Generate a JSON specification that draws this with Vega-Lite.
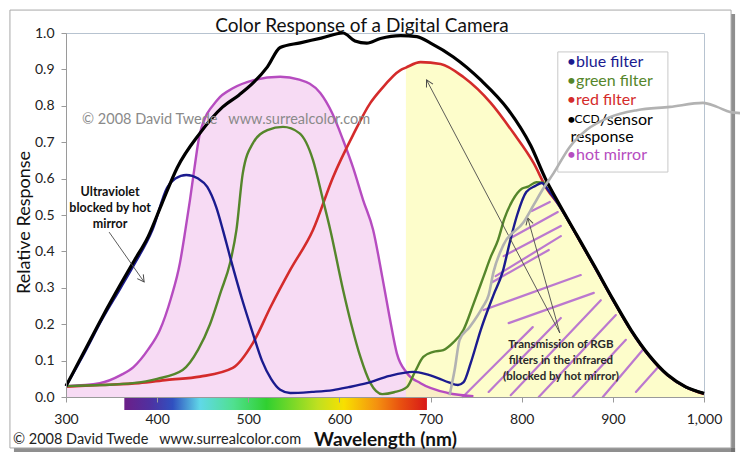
{
  "$schema": "https://vega.github.io/schema/vega-lite/v6.json",
  "width": 638,
  "height": 364,
  "autosize": {"type": "none"},
  "padding": {"left": 66, "top": 33, "right": 36, "bottom": 63},
  "background": "white",
  "config": {"font": "Lato", "view": {"stroke": "#b7c3d0", "strokeWidth": 1}},
  "title": {"text": "Color Response of a Digital Camera", "fontSize": 19, "fontWeight": "normal", "color": "#111111", "anchor": "middle", "dx": -23, "offset": -45, "font": "Lato", "baseline": "bottom"},
  "datasets": {
    "curves": [
      {"s":"blue","nm":300,"v":0.03},{"s":"blue","nm":320,"v":0.12},{"s":"blue","nm":340,"v":0.215},{"s":"blue","nm":360,"v":0.3},{"s":"blue","nm":375,"v":0.365},{"s":"blue","nm":395,"v":0.46},{"s":"blue","nm":411,"v":0.575},{"s":"blue","nm":420,"v":0.6},{"s":"blue","nm":432,"v":0.61},{"s":"blue","nm":445,"v":0.6},{"s":"blue","nm":455,"v":0.577},{"s":"blue","nm":465,"v":0.52},{"s":"blue","nm":472,"v":0.46},{"s":"blue","nm":480,"v":0.385},{"s":"blue","nm":493,"v":0.27},{"s":"blue","nm":505,"v":0.175},{"s":"blue","nm":515,"v":0.1},{"s":"blue","nm":525,"v":0.05},{"s":"blue","nm":535,"v":0.02},{"s":"blue","nm":546,"v":0.011},{"s":"blue","nm":570,"v":0.014},{"s":"blue","nm":593,"v":0.019},{"s":"blue","nm":610,"v":0.027},{"s":"blue","nm":630,"v":0.038},{"s":"blue","nm":655,"v":0.058},{"s":"blue","nm":681,"v":0.069},{"s":"blue","nm":695,"v":0.063},{"s":"blue","nm":708,"v":0.052},{"s":"blue","nm":720,"v":0.04},{"s":"blue","nm":730,"v":0.033},{"s":"blue","nm":736,"v":0.04},{"s":"blue","nm":744,"v":0.093},{"s":"blue","nm":755,"v":0.184},{"s":"blue","nm":769,"v":0.28},{"s":"blue","nm":779,"v":0.343},{"s":"blue","nm":787,"v":0.426},{"s":"blue","nm":795,"v":0.5},{"s":"blue","nm":805,"v":0.563},{"s":"blue","nm":815,"v":0.58},{"s":"blue","nm":822,"v":0.588},{"s":"blue","nm":830,"v":0.565},{"s":"blue","nm":840,"v":0.53},{"s":"blue","nm":860,"v":0.445},{"s":"blue","nm":880,"v":0.357},{"s":"blue","nm":900,"v":0.267},{"s":"blue","nm":920,"v":0.182},{"s":"blue","nm":940,"v":0.112},{"s":"blue","nm":960,"v":0.06},{"s":"blue","nm":980,"v":0.027},{"s":"blue","nm":1000,"v":0.01},
      {"s":"green","nm":300,"v":0.03},{"s":"green","nm":340,"v":0.033},{"s":"green","nm":373,"v":0.038},{"s":"green","nm":400,"v":0.05},{"s":"green","nm":428,"v":0.074},{"s":"green","nm":445,"v":0.13},{"s":"green","nm":458,"v":0.2},{"s":"green","nm":470,"v":0.29},{"s":"green","nm":480,"v":0.368},{"s":"green","nm":487,"v":0.459},{"s":"green","nm":494,"v":0.615},{"s":"green","nm":505,"v":0.697},{"s":"green","nm":521,"v":0.733},{"s":"green","nm":538,"v":0.742},{"s":"green","nm":556,"v":0.725},{"s":"green","nm":571,"v":0.651},{"s":"green","nm":582,"v":0.541},{"s":"green","nm":590,"v":0.459},{"s":"green","nm":604,"v":0.294},{"s":"green","nm":613,"v":0.2},{"s":"green","nm":623,"v":0.11},{"s":"green","nm":634,"v":0.038},{"s":"green","nm":647,"v":0.008},{"s":"green","nm":660,"v":0.013},{"s":"green","nm":674,"v":0.027},{"s":"green","nm":683,"v":0.07},{"s":"green","nm":692,"v":0.11},{"s":"green","nm":703,"v":0.124},{"s":"green","nm":714,"v":0.129},{"s":"green","nm":725,"v":0.15},{"s":"green","nm":736,"v":0.184},{"s":"green","nm":747,"v":0.255},{"s":"green","nm":758,"v":0.33},{"s":"green","nm":766,"v":0.385},{"s":"green","nm":774,"v":0.431},{"s":"green","nm":781,"v":0.49},{"s":"green","nm":790,"v":0.54},{"s":"green","nm":800,"v":0.572},{"s":"green","nm":807,"v":0.578},{"s":"green","nm":816,"v":0.59},{"s":"green","nm":826,"v":0.588},{"s":"green","nm":840,"v":0.532},{"s":"green","nm":860,"v":0.446},{"s":"green","nm":880,"v":0.358},{"s":"green","nm":900,"v":0.268},{"s":"green","nm":920,"v":0.183},{"s":"green","nm":940,"v":0.113},{"s":"green","nm":960,"v":0.06},{"s":"green","nm":980,"v":0.027},{"s":"green","nm":1000,"v":0.01},
      {"s":"red","nm":300,"v":0.028},{"s":"red","nm":337,"v":0.033},{"s":"red","nm":380,"v":0.038},{"s":"red","nm":411,"v":0.047},{"s":"red","nm":447,"v":0.056},{"s":"red","nm":483,"v":0.08},{"s":"red","nm":505,"v":0.148},{"s":"red","nm":525,"v":0.25},{"s":"red","nm":546,"v":0.349},{"s":"red","nm":571,"v":0.459},{"s":"red","nm":593,"v":0.604},{"s":"red","nm":615,"v":0.72},{"s":"red","nm":634,"v":0.808},{"s":"red","nm":645,"v":0.843},{"s":"red","nm":667,"v":0.898},{"s":"red","nm":673,"v":0.905},{"s":"red","nm":689,"v":0.92},{"s":"red","nm":711,"v":0.915},{"s":"red","nm":736,"v":0.879},{"s":"red","nm":766,"v":0.808},{"s":"red","nm":791,"v":0.725},{"s":"red","nm":813,"v":0.643},{"s":"red","nm":828,"v":0.57},{"s":"red","nm":840,"v":0.53},{"s":"red","nm":860,"v":0.445},{"s":"red","nm":880,"v":0.357},{"s":"red","nm":900,"v":0.267},{"s":"red","nm":920,"v":0.182},{"s":"red","nm":940,"v":0.112},{"s":"red","nm":960,"v":0.06},{"s":"red","nm":980,"v":0.027},{"s":"red","nm":1000,"v":0.008},
      {"s":"ccd","nm":300,"v":0.03},{"s":"ccd","nm":320,"v":0.125},{"s":"ccd","nm":340,"v":0.22},{"s":"ccd","nm":360,"v":0.31},{"s":"ccd","nm":375,"v":0.375},{"s":"ccd","nm":390,"v":0.44},{"s":"ccd","nm":405,"v":0.53},{"s":"ccd","nm":422,"v":0.63},{"s":"ccd","nm":447,"v":0.725},{"s":"ccd","nm":472,"v":0.797},{"s":"ccd","nm":490,"v":0.83},{"s":"ccd","nm":505,"v":0.862},{"s":"ccd","nm":521,"v":0.907},{"s":"ccd","nm":535,"v":0.96},{"s":"ccd","nm":557,"v":0.973},{"s":"ccd","nm":580,"v":0.986},{"s":"ccd","nm":604,"v":1.0},{"s":"ccd","nm":617,"v":0.978},{"s":"ccd","nm":630,"v":0.972},{"s":"ccd","nm":645,"v":0.985},{"s":"ccd","nm":667,"v":0.993},{"s":"ccd","nm":685,"v":0.99},{"s":"ccd","nm":700,"v":0.972},{"s":"ccd","nm":725,"v":0.934},{"s":"ccd","nm":755,"v":0.871},{"s":"ccd","nm":785,"v":0.79},{"s":"ccd","nm":810,"v":0.69},{"s":"ccd","nm":826,"v":0.6},{"s":"ccd","nm":840,"v":0.535},{"s":"ccd","nm":860,"v":0.447},{"s":"ccd","nm":880,"v":0.359},{"s":"ccd","nm":900,"v":0.269},{"s":"ccd","nm":920,"v":0.184},{"s":"ccd","nm":940,"v":0.114},{"s":"ccd","nm":960,"v":0.061},{"s":"ccd","nm":980,"v":0.028},{"s":"ccd","nm":1000,"v":0.01},
      {"s":"hot","nm":300,"v":0.03},{"s":"hot","nm":337,"v":0.038},{"s":"hot","nm":360,"v":0.06},{"s":"hot","nm":374,"v":0.082},{"s":"hot","nm":390,"v":0.13},{"s":"hot","nm":403,"v":0.184},{"s":"hot","nm":415,"v":0.27},{"s":"hot","nm":425,"v":0.368},{"s":"hot","nm":431,"v":0.459},{"s":"hot","nm":436,"v":0.541},{"s":"hot","nm":441,"v":0.63},{"s":"hot","nm":447,"v":0.725},{"s":"hot","nm":466,"v":0.816},{"s":"hot","nm":483,"v":0.848},{"s":"hot","nm":505,"v":0.87},{"s":"hot","nm":535,"v":0.88},{"s":"hot","nm":556,"v":0.872},{"s":"hot","nm":579,"v":0.835},{"s":"hot","nm":592,"v":0.78},{"s":"hot","nm":604,"v":0.706},{"s":"hot","nm":615,"v":0.63},{"s":"hot","nm":626,"v":0.541},{"s":"hot","nm":637,"v":0.459},{"s":"hot","nm":647,"v":0.33},{"s":"hot","nm":655,"v":0.22},{"s":"hot","nm":663,"v":0.12},{"s":"hot","nm":674,"v":0.066},{"s":"hot","nm":689,"v":0.038},{"s":"hot","nm":719,"v":0.011},{"s":"hot","nm":747,"v":0.002}
    ],
    "grey": [
      {"nm":720.9,"v":0.005},{"nm":726.4,"v":0.074},{"nm":731.9,"v":0.157},{"nm":742.9,"v":0.192},{"nm":757.1,"v":0.247},{"nm":763.7,"v":0.28},{"nm":769,"v":0.343},{"nm":780,"v":0.418},{"nm":802,"v":0.48},{"nm":813,"v":0.527},{"nm":824,"v":0.574},{"nm":835,"v":0.615},{"nm":852.7,"v":0.687},{"nm":871.4,"v":0.734},{"nm":896.7,"v":0.769},{"nm":926.4,"v":0.788},{"nm":962.6,"v":0.797},{"nm":998.9,"v":0.808},{"nm":1014.3,"v":0.797},{"nm":1028.6,"v":0.783},{"nm":1039.6,"v":0.78}
    ],
    "hatch": [
      {"id":1,"nm":811.0,"v":0.511},{"id":1,"nm":830.8,"v":0.536},
      {"id":2,"nm":787.9,"v":0.437},{"id":2,"nm":839.6,"v":0.508},
      {"id":3,"nm":780.2,"v":0.387},{"id":3,"nm":842.9,"v":0.47},
      {"id":4,"nm":771.4,"v":0.332},{"id":4,"nm":842.9,"v":0.442},
      {"id":5,"nm":768.1,"v":0.316},{"id":5,"nm":829.7,"v":0.404},
      {"id":6,"nm":758.2,"v":0.239},{"id":6,"nm":864.8,"v":0.335},
      {"id":7,"nm":785.7,"v":0.203},{"id":7,"nm":879.1,"v":0.286},
      {"id":8,"nm":735.2,"v":0.0},{"id":8,"nm":812.1,"v":0.192},
      {"id":9,"nm":763.7,"v":0.014},{"id":9,"nm":842.9,"v":0.217},
      {"id":10,"nm":787.9,"v":0.005},{"id":10,"nm":886.8,"v":0.266},
      {"id":11,"nm":818.7,"v":0.0},{"id":11,"nm":903.3,"v":0.225},
      {"id":12,"nm":856.0,"v":0.0},{"id":12,"nm":914.3,"v":0.157},
      {"id":13,"nm":889.0,"v":0.0},{"id":13,"nm":932.7,"v":0.129},
      {"id":14,"nm":925.3,"v":0.014},{"id":14,"nm":949.5,"v":0.082}
    ],
    "arrows": [
      {"id":"a1","nm":841.8,"v":0.176,"nm2":695.6,"v2":0.871},
      {"id":"a2","nm":841.8,"v":0.176,"nm2":806.6,"v2":0.492},
      {"id":"uv","nm":347.3,"v":0.453,"nm2":385.7,"v2":0.316}
    ],
    "tips": [
      {"id":"a1","nm":695.6,"v":0.871},
      {"id":"a2","nm":806.6,"v":0.492},
      {"id":"uv","nm":385.7,"v":0.316}
    ],
    "boxes": [
      {"k":"legend","nm":839.6,"nm2":960.4,"v":0.948,"v2":0.618},
      {"k":"frame","nm":238.5,"nm2":1029.7,"v":1.063,"v2":-0.14},
      {"k":"shadowR","nm":1029.7,"nm2":1034.1,"v":1.052,"v2":-0.151},
      {"k":"shadowB","nm":242.9,"nm2":1034.1,"v":-0.14,"v2":-0.151},
      {"k":"rainbow","nm":364,"nm2":696,"v":-0.003,"v2":-0.036}
    ],
    "legtext": [
      {"t":"•blue filter","s":"blue","nm":849.5,"v":0.92,"f":"big"},
      {"t":"•green filter","s":"green","nm":849.5,"v":0.868,"f":"big"},
      {"t":"•red filter","s":"red","nm":849.5,"v":0.816,"f":"big"},
      {"t":"•","s":"ccd","nm":849.5,"v":0.761,"f":"big"},
      {"t":"CCD","s":"ccd","nm":858,"v":0.763,"f":"small"},
      {"t":"/sensor","s":"ccd","nm":886,"v":0.761,"f":"big"},
      {"t":"response","s":"ccd","nm":853.5,"v":0.714,"f":"big"},
      {"t":"•hot mirror","s":"hot","nm":849.5,"v":0.665,"f":"big"}
    ],
    "notes": [
      {"k":"uv","t":"Ultraviolet","nm":348.4,"v":0.563},
      {"k":"uv","t":"blocked by hot","nm":348.4,"v":0.519},
      {"k":"uv","t":"mirror","nm":348.4,"v":0.475},
      {"k":"ir","t":"Transmission of RGB","nm":843,"v":0.143},
      {"k":"ir","t":"filters in the infrared","nm":843,"v":0.099},
      {"k":"ir","t":"(blocked by hot mirror)","nm":843,"v":0.055},
      {"k":"cin","t":"© 2008 David Twede\u00a0\u00a0\u00a0www.surrealcolor.com","nm":317.6,"v":0.761},
      {"k":"cout","t":"© 2008 David Twede\u00a0\u00a0\u00a0www.surrealcolor.com","nm":241.8,"v":-0.118}
    ]
  },
  "encoding": {
    "x": {"field": "nm", "type": "quantitative", "scale": {"domain": [300, 1000], "nice": false, "zero": false},
      "axis": {"values": [300,400,500,600,700,800,900,1000], "grid": false, "labelFontSize": 14, "labelColor": "#222222", "labelPadding": 10, "labelFlush": false, "tickSize": 5, "tickColor": "#9a9a9a", "domainColor": "#9a9a9a", "title": "Wavelength (nm)", "titleFontSize": 19, "titleFontWeight": "bold", "titleColor": "#111111", "titleY": 48, "titleBaseline": "alphabetic", "zindex": 1}},
    "y": {"field": "v", "type": "quantitative", "scale": {"domain": [0, 1], "nice": false, "zero": false},
      "axis": {"values": [0,0.1,0.2,0.3,0.4,0.5,0.6,0.7,0.8,0.9,1], "format": ".1f", "grid": false, "labelFontSize": 14, "labelColor": "#222222", "labelPadding": 7, "labelFlush": false, "tickSize": 5, "tickColor": "#9a9a9a", "domainColor": "#9a9a9a", "title": "Relative Response", "titleFontSize": 18, "titleFontWeight": "normal", "titleColor": "#111111", "titleX": -42, "titleY": 189, "titleAngle": -90, "titleAlign": "center", "titleBaseline": "middle", "zindex": 1}}
  },
  "layer": [
    {"data": {"name": "boxes"}, "transform": [{"filter": "datum.k == 'shadowR' || datum.k == 'shadowB'"}],
     "mark": {"type": "rect", "fill": "#6a6a6a", "opacity": 0.75, "clip": false},
     "encoding": {"x2": {"field": "nm2"}, "y2": {"field": "v2"}}},
    {"data": {"name": "boxes"}, "transform": [{"filter": "datum.k == 'frame'"}],
     "mark": {"type": "rect", "fill": null, "fillOpacity": 0, "stroke": "#a8a8a8", "strokeWidth": 1, "clip": false},
     "encoding": {"x2": {"field": "nm2"}, "y2": {"field": "v2"}}},
    {"data": {"name": "curves"}, "transform": [{"filter": "datum.s == 'hot'"}],
     "mark": {"type": "area", "color": "#f7dbf4", "interpolate": "monotone"}},
    {"data": {"name": "curves"}, "transform": [{"filter": "datum.s == 'red' && datum.nm >= 673"}],
     "mark": {"type": "area", "color": "#fcfca0", "opacity": 0.55, "interpolate": "monotone"}},
    {"data": {"name": "hatch"},
     "mark": {"type": "line", "color": "#b469cf", "strokeWidth": 2.2, "opacity": 0.9, "strokeCap": "round"},
     "encoding": {"detail": {"field": "id", "type": "nominal"}}},
    {"data": {"name": "curves"}, "transform": [{"filter": "datum.s == 'hot'"}],
     "mark": {"type": "line", "strokeWidth": 2.4, "interpolate": "monotone"},
     "encoding": {"color": {"field": "s", "type": "nominal", "scale": {"domain": ["blue","green","red","ccd","hot"], "range": ["#1b1b8f","#55862b","#d42b2b","#000000","#b64cc0"]}, "legend": null}}},
    {"data": {"name": "curves"}, "transform": [{"filter": "datum.s == 'red'"}],
     "mark": {"type": "line", "strokeWidth": 2.6, "interpolate": "monotone"},
     "encoding": {"color": {"field": "s", "type": "nominal", "legend": null}}},
    {"data": {"name": "curves"}, "transform": [{"filter": "datum.s == 'green'"}],
     "mark": {"type": "line", "strokeWidth": 2.4, "interpolate": "monotone"},
     "encoding": {"color": {"field": "s", "type": "nominal", "legend": null}}},
    {"data": {"name": "curves"}, "transform": [{"filter": "datum.s == 'blue'"}],
     "mark": {"type": "line", "strokeWidth": 2.4, "interpolate": "monotone"},
     "encoding": {"color": {"field": "s", "type": "nominal", "legend": null}}},
    {"data": {"name": "curves"}, "transform": [{"filter": "datum.s == 'ccd'"}],
     "mark": {"type": "line", "strokeWidth": 3.2, "interpolate": "monotone"},
     "encoding": {"color": {"field": "s", "type": "nominal", "legend": null}}},
    {"data": {"name": "arrows"},
     "mark": {"type": "rule", "color": "#4a4a4a", "strokeWidth": 0.9},
     "encoding": {"x2": {"field": "nm2"}, "y2": {"field": "v2"}}},
    {"data": {"name": "tips"}, "transform": [{"filter": "datum.id == 'a1'"}],
     "mark": {"type": "point", "shape": "M-0.55,1L0,0L0.55,1", "size": 180, "filled": false, "stroke": "#4a4a4a", "strokeWidth": 1, "angle": 332, "opacity": 1}},
    {"data": {"name": "tips"}, "transform": [{"filter": "datum.id == 'a2'"}],
     "mark": {"type": "point", "shape": "M-0.55,1L0,0L0.55,1", "size": 180, "filled": false, "stroke": "#4a4a4a", "strokeWidth": 1, "angle": 344, "opacity": 1}},
    {"data": {"name": "tips"}, "transform": [{"filter": "datum.id == 'uv'"}],
     "mark": {"type": "point", "shape": "M-0.55,1L0,0L0.55,1", "size": 180, "filled": false, "stroke": "#4a4a4a", "strokeWidth": 1, "angle": 145, "opacity": 1}},
    {"data": {"name": "boxes"}, "transform": [{"filter": "datum.k == 'legend'"}],
     "mark": {"type": "rect", "fill": "white", "stroke": "#c8c8c8", "strokeWidth": 1},
     "encoding": {"x2": {"field": "nm2"}, "y2": {"field": "v2"}}},
    {"data": {"name": "legtext"}, "transform": [{"filter": "datum.f == 'big'"}],
     "mark": {"type": "text", "align": "left", "baseline": "middle", "fontSize": 16, "font": "Lato"},
     "encoding": {"text": {"field": "t"}, "color": {"field": "s", "type": "nominal", "legend": null}}},
    {"data": {"name": "legtext"}, "transform": [{"filter": "datum.f == 'small'"}],
     "mark": {"type": "text", "align": "left", "baseline": "middle", "fontSize": 12, "font": "Lato"},
     "encoding": {"text": {"field": "t"}, "color": {"field": "s", "type": "nominal", "legend": null}}},
    {"data": {"name": "notes"}, "transform": [{"filter": "datum.k == 'uv'"}],
     "mark": {"type": "text", "align": "center", "baseline": "middle", "fontSize": 12.5, "fontWeight": "bold", "color": "#111111", "font": "Lato"},
     "encoding": {"text": {"field": "t"}}},
    {"data": {"name": "notes"}, "transform": [{"filter": "datum.k == 'ir'"}],
     "mark": {"type": "text", "align": "center", "baseline": "middle", "fontSize": 11.5, "fontWeight": "bold", "color": "#2a2a2a", "font": "Lato"},
     "encoding": {"text": {"field": "t"}}},
    {"data": {"name": "notes"}, "transform": [{"filter": "datum.k == 'cin'"}],
     "mark": {"type": "text", "align": "left", "baseline": "middle", "fontSize": 14.5, "color": "#8a8a8a", "font": "Lato"},
     "encoding": {"text": {"field": "t"}}},
    {"data": {"name": "notes"}, "transform": [{"filter": "datum.k == 'cout'"}],
     "mark": {"type": "text", "align": "left", "baseline": "middle", "fontSize": 14.5, "color": "#222222", "font": "Lato", "clip": false},
     "encoding": {"text": {"field": "t"}}},
    {"data": {"name": "boxes"}, "transform": [{"filter": "datum.k == 'rainbow'"}],
     "mark": {"type": "rect", "clip": false, "fill": {"gradient": "linear", "x1": 0, "y1": 0, "x2": 1, "y2": 0, "stops": [
       {"offset": 0, "color": "#6c1f88"}, {"offset": 0.083, "color": "#5030a0"}, {"offset": 0.16, "color": "#3050c0"}, {"offset": 0.25, "color": "#60d8e8"}, {"offset": 0.36, "color": "#50e090"}, {"offset": 0.47, "color": "#30d030"}, {"offset": 0.64, "color": "#c0e020"}, {"offset": 0.725, "color": "#f8e000"}, {"offset": 0.836, "color": "#f49010"}, {"offset": 0.914, "color": "#e85010"}, {"offset": 1, "color": "#d81818"}]}},
     "encoding": {"x2": {"field": "nm2"}, "y2": {"field": "v2"}}},
    {"data": {"name": "grey"},
     "mark": {"type": "line", "color": "#b2b2b2", "strokeWidth": 2.6, "interpolate": "monotone", "clip": false}}
  ]
}
